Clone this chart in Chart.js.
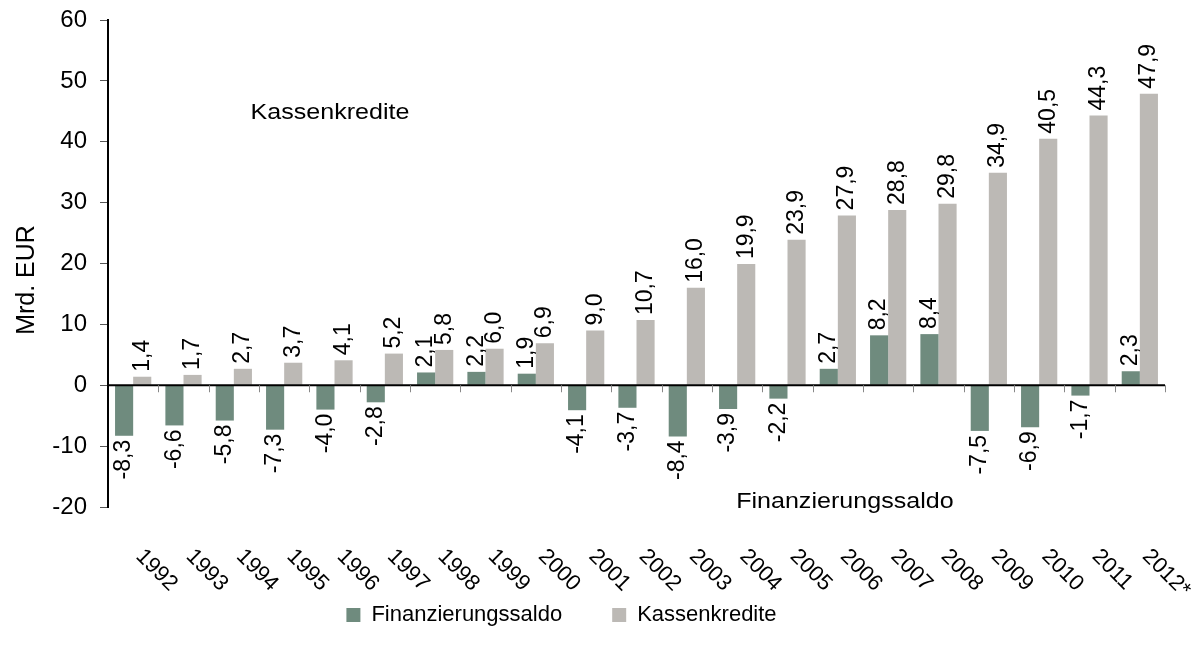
<!DOCTYPE html>
<html>
<head>
<meta charset="utf-8">
<script src="https://cdn.jsdelivr.net/npm/chart.js@4.4.1/dist/chart.umd.min.js"></script>
<style>
  html, body { margin: 0; padding: 0; background: #fff; }
  #wrap { width: 1197px; height: 646px; }
</style>
</head>
<body>
<div id="wrap"><canvas id="myChart"></canvas></div>
<script>
const years = ["1992", "1993", "1994", "1995", "1996", "1997", "1998", "1999", "2000", "2001",
  "2002", "2003", "2004", "2005", "2006", "2007", "2008", "2009", "2010", "2011", "2012*"];
const saldo = [-8.3, -6.6, -5.8, -7.3, -4.0, -2.8, 2.1, 2.2, 1.9, -4.1,
  -3.7, -8.4, -3.9, -2.2, 2.7, 8.2, 8.4, -7.5, -6.9, -1.7, 2.3];
const kassen = [1.4, 1.7, 2.7, 3.7, 4.1, 5.2, 5.8, 6.0, 6.9, 9.0,
  10.7, 16.0, 19.9, 23.9, 27.9, 28.8, 29.8, 34.9, 40.5, 44.3, 47.9];
const yTicks = [-20, -10, 0, 10, 20, 30, 40, 50, 60];

const FONT = "'Liberation Sans', Arial, sans-serif";
const fmt = v => v.toFixed(1).replace(".", ",");

// value labels, zero line, rotated year labels, axis title and the two captions
const extras = {
  id: "extras",
  afterLayout(chart) {
    // legend sits a bit left of centre in the original
    chart.legend.right -= 42;
  },
  afterDatasetsDraw(chart) {
    const ctx = chart.ctx;
    const x = chart.scales.x, y = chart.scales.y;
    const area = chart.chartArea;
    const y0 = y.getPixelForValue(0);

    // zero line with category ticks
    ctx.save();
    ctx.strokeStyle = "#000";
    ctx.lineWidth = 2;
    ctx.beginPath();
    ctx.moveTo(area.left, y0);
    ctx.lineTo(area.right, y0);
    ctx.stroke();
    ctx.strokeStyle = "#888";
    ctx.lineWidth = 1;
    const step = (area.right - area.left) / years.length;
    for (let i = 1; i <= years.length; i++) {
      const px = Math.round(area.left + i * step) + 0.5;
      ctx.beginPath();
      ctx.moveTo(px, y0);
      ctx.lineTo(px, y0 + 7);
      ctx.stroke();
    }
    ctx.restore();

    // data labels
    ctx.save();
    ctx.font = "23px " + FONT;
    ctx.fillStyle = "#000";
    ctx.textBaseline = "middle";
    chart.data.datasets.forEach((ds, di) => {
      chart.getDatasetMeta(di).data.forEach((bar, i) => {
        const v = ds.data[i];
        ctx.save();
        if (v >= 0) {
          ctx.translate(bar.x, bar.y - 5);
          ctx.rotate(-Math.PI / 2);
          ctx.textAlign = "left";
        } else {
          ctx.translate(bar.x, bar.y + 4);
          ctx.rotate(-Math.PI / 2);
          ctx.textAlign = "right";
        }
        ctx.fillText(fmt(v), 0, 0);
        ctx.restore();
      });
    });
    ctx.restore();

    // rotated category labels
    ctx.save();
    ctx.font = "22px " + FONT;
    ctx.fillStyle = "#000";
    ctx.textAlign = "left";
    ctx.textBaseline = "middle";
    years.forEach((lab, i) => {
      const px = x.getPixelForValue(i);
      ctx.save();
      ctx.translate(px + 6, area.bottom + 46);
      ctx.rotate(Math.PI / 4);
      ctx.fillText(lab, 0, 0);
      ctx.restore();
    });
    ctx.restore();

    // y axis title
    ctx.save();
    ctx.font = "25px " + FONT;
    ctx.fillStyle = "#000";
    ctx.textAlign = "center";
    ctx.textBaseline = "middle";
    ctx.translate(27, 280);
    ctx.rotate(-Math.PI / 2);
    ctx.fillText("Mrd. EUR", 0, 0);
    ctx.restore();

    // captions
    ctx.save();
    ctx.font = "22px " + FONT;
    ctx.fillStyle = "#000";
    ctx.textAlign = "center";
    ctx.textBaseline = "middle";
    [["Kassenkredite", 3.91, 44.8], ["Finanzierungssaldo", 14.14, -19.2]].forEach(c => {
      ctx.save();
      ctx.translate(x.getPixelForValue(c[1]), y.getPixelForValue(c[2]));
      ctx.scale(1.14, 1);
      ctx.fillText(c[0], 0, 0);
      ctx.restore();
    });
    ctx.restore();
  }
};

new Chart(document.getElementById("myChart").getContext("2d"), {
  type: "bar",
  data: {
    labels: years,
    datasets: [
      {
        label: "Finanzierungssaldo",
        data: saldo,
        backgroundColor: "#6F8B7E",
        categoryPercentage: 0.72,
        barPercentage: 1.0
      },
      {
        label: "Kassenkredite",
        data: kassen,
        backgroundColor: "#BCB9B5",
        categoryPercentage: 0.72,
        barPercentage: 1.0
      }
    ]
  },
  options: {
    responsive: true,
    maintainAspectRatio: false,
    animation: false,
    layout: { padding: { top: 20, right: 32, bottom: 10, left: 0 } },
    plugins: {
      tooltip: { enabled: false },
      legend: {
        position: "bottom",
        labels: {
          font: { family: FONT, size: 22 },
          color: "#000",
          boxWidth: 14,
          boxHeight: 14,
          padding: 50
        }
      }
    },
    scales: {
      x: {
        grid: { display: false },
        border: { display: false },
        ticks: { display: false },
        afterFit: s => { s.height = 47; }
      },
      y: {
        min: -20,
        max: 60,
        afterBuildTicks: s => { s.ticks = yTicks.map(v => ({ value: v })); },
        grid: { drawOnChartArea: false, tickLength: 8, color: "#555" },
        border: { display: true, color: "#000", width: 2 },
        ticks: {
          font: { family: FONT, size: 24 },
          color: "#000",
          padding: 13
        },
        afterFit: s => {
          s.width = 108;
          s.paddingTop = 0;
          s.paddingBottom = 0;
        }
      }
    }
  },
  plugins: [extras]
});
</script>
</body>
</html>
